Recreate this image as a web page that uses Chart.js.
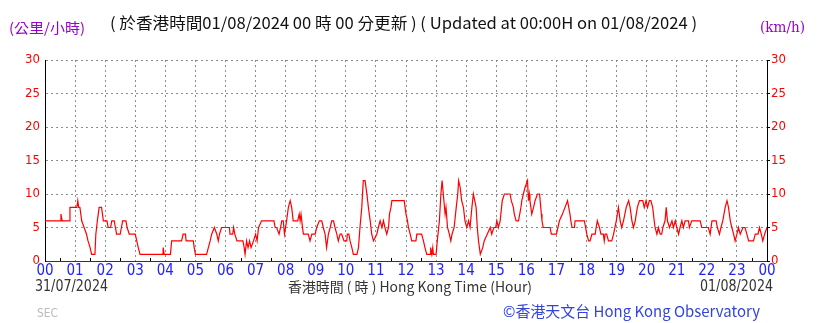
<!DOCTYPE html>
<html>
<head>
<meta charset="utf-8">
<script src="https://cdn.jsdelivr.net/npm/chart.js@4"></script>
<style>
  html, body { margin: 0; padding: 0; background: #fff; }
  #wrap { width: 819px; height: 323px; }
</style>
</head>
<body>
<div id="wrap"><canvas id="graficoVento" width="819" height="323"></canvas></div>
<script>
// horas (0 = 00:00 de 31/07, 24 = 00:00 de 01/08)
var timeHours = [
  0.00, 0.50, 0.53, 0.57, 0.80, 0.83, 1.06, 1.09, 1.12, 1.16, 1.22, 1.30, 1.38, 1.43, 1.50, 1.55, 1.66, 1.69, 1.74, 1.80,
  1.88, 1.94, 2.06, 2.10, 2.18, 2.22, 2.30, 2.34, 2.38, 2.50, 2.54, 2.58, 2.69, 2.73, 2.80, 3.00, 3.05, 3.10, 3.16, 3.92,
  3.93, 3.96, 4.17, 4.21, 4.54, 4.59, 4.67, 4.69, 4.93, 4.96, 5.00, 5.37, 5.43, 5.49, 5.54, 5.63, 5.71, 5.76, 5.80, 5.87,
  6.13, 6.15, 6.24, 6.27, 6.31, 6.38, 6.58, 6.62, 6.65, 6.70, 6.75, 6.80, 6.85, 6.93, 7.00, 7.05, 7.10, 7.20, 7.61, 7.65,
  7.70, 7.78, 7.83, 7.87, 7.92, 7.96, 8.03, 8.09, 8.15, 8.20, 8.25, 8.40, 8.45, 8.48, 8.51, 8.56, 8.59, 8.75, 8.81, 8.87,
  8.98, 9.03, 9.12, 9.20, 9.25, 9.31, 9.36, 9.42, 9.48, 9.53, 9.59, 9.64, 9.70, 9.75, 9.81, 9.86, 9.94, 10.03, 10.05, 10.10,
  10.14, 10.20, 10.25, 10.37, 10.42, 10.47, 10.53, 10.58, 10.64, 10.70, 10.75, 10.81, 10.86, 10.92, 11.03, 11.08, 11.14, 11.20, 11.25, 11.30,
  11.36, 11.42, 11.45, 11.50, 11.53, 11.94, 11.97, 12.00, 12.05, 12.08, 12.14, 12.19, 12.33, 12.36, 12.52, 12.58, 12.63, 12.69, 12.80, 12.82,
  12.86, 12.89, 12.91, 13.00, 13.04, 13.11, 13.16, 13.20, 13.24, 13.30, 13.33, 13.38, 13.44, 13.49, 13.53, 13.60, 13.67, 13.72, 13.75, 13.80,
  13.85, 13.91, 13.96, 14.02, 14.08, 14.13, 14.19, 14.24, 14.33, 14.37, 14.41, 14.47, 14.55, 14.60, 14.70, 14.80, 14.85, 14.92, 14.98, 15.02,
  15.07, 15.13, 15.20, 15.27, 15.46, 15.50, 15.57, 15.60, 15.66, 15.74, 15.78, 15.82, 15.85, 15.90, 15.96, 16.04, 16.07, 16.10, 16.12, 16.18,
  16.24, 16.29, 16.37, 16.44, 16.46, 16.50, 16.52, 16.56, 16.79, 16.83, 17.00, 17.05, 17.10, 17.20, 17.37, 17.45, 17.48, 17.52, 17.60, 17.62,
  17.93, 17.97, 18.01, 18.07,
  18.12, 18.18, 18.29, 18.32, 18.36, 18.43, 18.48, 18.56, 18.59, 18.62, 18.67, 18.73, 18.84, 18.90, 18.99, 19.06, 19.12, 19.17, 19.23, 19.32,
  19.40, 19.45, 19.51, 19.56, 19.62, 19.69, 19.76, 19.87, 19.92, 19.98, 20.03, 20.09, 20.14, 20.20, 20.25, 20.28, 20.34, 20.39, 20.45, 20.50,
  20.54, 20.61, 20.65, 20.69, 20.76, 20.84, 20.89, 20.95, 21.00, 21.06, 21.11, 21.17, 21.22, 21.28, 21.39, 21.42, 21.50, 21.78, 21.83, 22.05,
  22.11, 22.17, 22.31, 22.35, 22.42, 22.47, 22.53, 22.61, 22.67, 22.72, 22.78, 22.83, 22.89, 22.94, 23.00, 23.05, 23.11, 23.20, 23.27, 23.33,
  23.39, 23.55, 23.61, 23.70, 23.75, 23.81, 23.86, 23.92, 24.00
];
// velocidade do vento (km/h)
var windSpeed = [
  6, 6, 7, 6, 6, 8, 8, 9, 8, 8, 6, 5, 4, 3, 2, 1, 1, 4, 6, 8,
  8, 6, 6, 5, 5, 6, 6, 5, 4, 4, 5, 6, 6, 5, 4, 4, 3, 2, 1, 1,
  2, 1, 1, 3, 3, 4, 4, 3, 3, 2, 1, 1, 2, 3, 4, 5, 4, 3, 4, 5,
  5, 4, 4, 5, 4, 3, 3, 2, 1, 3, 2, 3, 2, 3, 4, 3, 5, 6, 6, 5,
  5, 4, 5, 6, 6, 4, 6, 8, 9, 8, 6, 6, 7, 6, 7, 5, 4, 4, 3, 4,
  4, 5, 6, 6, 5, 4, 2, 4, 5, 6, 6, 5, 4, 3, 4, 4, 3, 3, 4, 4,
  3, 2, 1, 1, 2, 5, 8, 12, 12, 10, 8, 6, 4, 3, 4, 5, 6, 5, 6, 5,
  4, 5, 7, 8, 9, 9, 8, 7, 6, 5, 4, 3, 3, 4, 4, 3, 2, 1, 1, 2,
  1, 2, 1, 1, 3, 6, 10, 12, 10, 7, 8, 5, 4, 3, 4, 5, 8, 10, 12, 11,
  9, 8, 6, 5, 6, 5, 8, 10, 8, 5, 3, 1, 2, 3, 4, 5, 4, 5, 5, 6,
  5, 6, 9, 10, 10, 9, 8, 7, 6, 6, 7, 8, 9, 10, 11, 12, 9, 10, 9, 7,
  8, 9, 10, 10, 9, 7, 6, 5, 5, 4, 4, 5, 6, 7, 9, 7, 6, 5, 5, 6,
  6, 5, 4, 3,
  3, 4, 4, 5, 6, 5, 4, 4, 3, 4, 4, 3, 3, 4, 6, 8, 6, 5, 6, 8,
  9, 8, 6, 5, 6, 8, 9, 9, 8, 9, 8, 9, 9, 8, 6, 5, 4, 5, 4, 4,
  5, 6, 8, 6, 5, 6, 5, 6, 5, 4, 5, 6, 5, 6, 6, 5, 6, 6, 5, 5,
  4, 6, 6, 5, 4, 5, 6, 8, 9, 8, 6, 5, 4, 3, 4, 5, 4, 5, 5, 4,
  3, 3, 4, 4, 5, 4, 3, 4, 5
];
var hourLabels = ['00','01','02','03','04','05','06','07','08','09','10','11','12',
                  '13','14','15','16','17','18','19','20','21','22','23','00'];
var yTicks = [0, 5, 10, 15, 20, 25, 30];

var pontos = timeHours.map(function (h, i) { return { x: h, y: windSpeed[i] }; });

var CONDENSED = '"DejaVu Sans Condensed", "Liberation Sans Narrow", "DejaVu Sans", sans-serif';
var CJK = '"Noto Sans CJK TC", "Noto Sans CJK SC", sans-serif';

// escreve um texto ajustado a uma largura
function fitText(ctx, text, x, y, width, font, color) {
    ctx.save();
    ctx.font = font;
    ctx.fillStyle = color;
    ctx.textBaseline = 'middle';
    ctx.textAlign = 'left';
    var w = ctx.measureText(text).width;
    ctx.translate(x, y);
    ctx.scale(width / w, 1);
    ctx.fillText(text, 0, 0);
    ctx.restore();
}

var textosPlugin = {
    id: 'textos',
    afterDraw: function (chart) {
        var ctx = chart.ctx;
        var xs = chart.scales.x;
        var area = chart.chartArea;
        // marcas de meia hora
        ctx.save();
        ctx.strokeStyle = '#000';
        ctx.lineWidth = 1;
        for (var h = 0.5; h < 24; h += 1) {
            var px = Math.round(xs.getPixelForValue(h)) + 0.5;
            ctx.beginPath();
            ctx.moveTo(px, area.bottom);
            ctx.lineTo(px, area.bottom - 3);
            ctx.stroke();
        }
        ctx.restore();

        fitText(ctx, '(公里/小時)', 9, 28, 76, '14px ' + CJK, '#9900cc');
        fitText(ctx, '( 於香港時間01/08/2024 00 時 00 分更新 ) ( Updated at 00:00H on 01/08/2024 )',
                110, 23, 587, '16px ' + CJK, '#111');
        fitText(ctx, '(km/h)', 760, 28, 45, '14px "DejaVu Serif", serif', '#9900cc');

        fitText(ctx, '31/07/2024', 35, 287, 73, '15px ' + CONDENSED, '#333');
        fitText(ctx, '香港時間 ( 時 ) Hong Kong Time (Hour)', 288, 287, 244, '14px ' + CJK, '#333');
        fitText(ctx, '01/08/2024', 700, 287, 73, '15px ' + CONDENSED, '#333');
        fitText(ctx, '©香港天文台 Hong Kong Observatory', 503, 311, 257, '15px ' + CJK, '#3344dd');
        fitText(ctx, 'SEC', 37, 314, 21, '13px ' + CONDENSED, '#bbbbbb');
    }
};

var optionsVento = {
    responsive: false,
    animation: false,
    layout: { padding: { top: 60, left: 0, right: 0, bottom: 0 } },
    plugins: {
        legend: { display: false },
        tooltip: { enabled: false }
    },
    scales: {
        x: {
            type: 'linear',
            min: 0,
            max: 24,
            afterBuildTicks: function (scale) {
                scale.ticks = hourLabels.map(function (l, i) { return { value: i }; });
            },
            afterFit: function (scale) { scale.height = 62; },
            ticks: {
                autoSkip: false,
                maxRotation: 0,
                padding: 1,
                color: '#2222ff',
                font: { family: CONDENSED, size: 15 },
                callback: function (v) { return hourLabels[v]; }
            },
            grid: { color: '#8c8c8c', drawTicks: false },
            border: { color: '#333', dash: [2, 3] }
        },
        y: {
            position: 'left',
            min: 0,
            max: 30,
            afterBuildTicks: function (scale) {
                scale.ticks = yTicks.map(function (v) { return { value: v }; });
            },
            afterFit: function (scale) { scale.width = 45; },
            ticks: {
                padding: 5,
                color: '#ff0000',
                font: { family: CONDENSED, size: 13 }
            },
            grid: { color: '#8c8c8c', drawTicks: false },
            border: { color: '#000', dash: [2, 3] }
        },
        y1: {
            position: 'right',
            min: 0,
            max: 30,
            afterBuildTicks: function (scale) {
                scale.ticks = yTicks.map(function (v) { return { value: v }; });
            },
            afterFit: function (scale) { scale.width = 52; },
            ticks: {
                padding: 1,
                color: '#ff0000',
                font: { family: CONDENSED, size: 13 }
            },
            grid: { drawOnChartArea: false, drawTicks: true, tickLength: 3, color: '#000' },
            border: { color: '#000' }
        }
    }
};

var ctxVento = document.getElementById('graficoVento').getContext('2d');
var graficoVento = new Chart(ctxVento, {
    type: 'line',
    data: {
        datasets: [{
            data: pontos,
            borderColor: '#ff0000',
            borderWidth: 1.2,
            pointRadius: 0,
            tension: 0,
            yAxisID: 'y'
        }]
    },
    options: optionsVento,
    plugins: [textosPlugin]
});
</script>
</body>
</html>
